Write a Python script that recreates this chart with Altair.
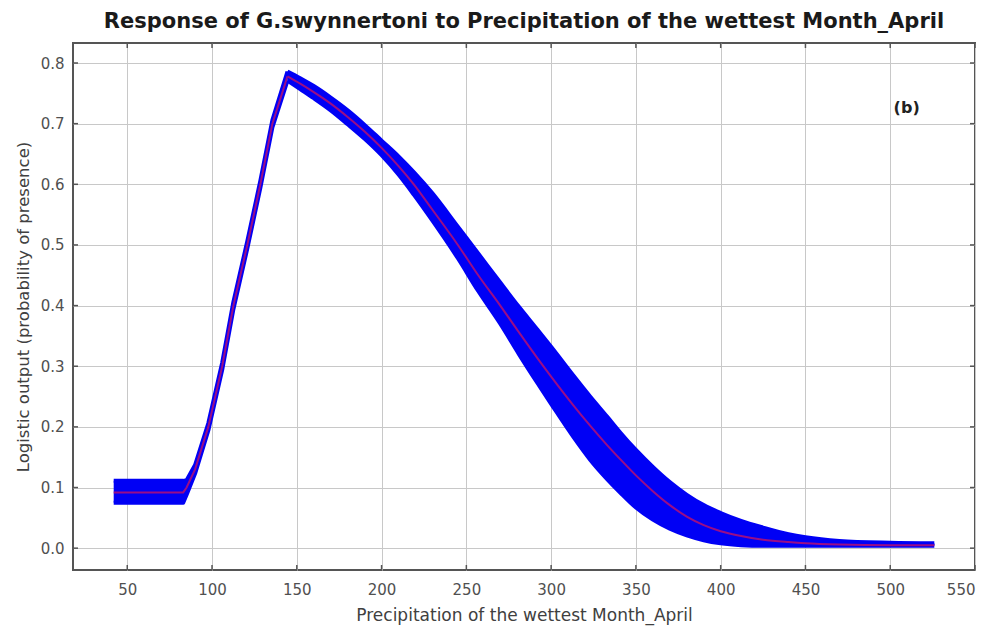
import altair as alt
import pandas as pd

# Precipitation of the wettest month (April), mm
precip = [42, 83, 85, 90, 97.8, 106, 112.6, 120.8, 128.5, 135.6, 144.5,
          152, 160, 170, 180, 190, 200, 210, 219, 230, 245, 257, 270, 281,
          292, 300, 313, 323, 333, 341, 350, 360, 370, 380, 390, 400, 412,
          425, 440, 450, 470, 500, 526]
# mean logistic output (red line)
mean = [0.092, 0.092, 0.100, 0.130, 0.200, 0.300, 0.400, 0.500, 0.600, 0.700, 0.778,
        0.766, 0.752, 0.733, 0.711, 0.687, 0.660, 0.630, 0.600, 0.558, 0.500, 0.450,
        0.400, 0.356, 0.313, 0.283, 0.236, 0.202, 0.170, 0.146, 0.120, 0.094, 0.071,
        0.052, 0.038, 0.028, 0.020, 0.014, 0.010, 0.008, 0.006, 0.005, 0.005]
# upper edge of the blue band (mean + sd)
upper = [0.111, 0.111, 0.112, 0.137, 0.206, 0.306, 0.406, 0.506, 0.606, 0.706, 0.786,
         0.775, 0.762, 0.743, 0.722, 0.698, 0.672, 0.646, 0.620, 0.585, 0.530, 0.486,
         0.438, 0.398, 0.360, 0.332, 0.285, 0.250, 0.217, 0.190, 0.162, 0.134, 0.109,
         0.088, 0.071, 0.058, 0.045, 0.034, 0.023, 0.018, 0.012, 0.009, 0.008]
# lower edge of the blue band (mean - sd)
lower = [0.075, 0.075, 0.088, 0.123, 0.194, 0.294, 0.394, 0.494, 0.594, 0.694, 0.771,
         0.757, 0.742, 0.722, 0.699, 0.675, 0.648, 0.616, 0.583, 0.540, 0.478, 0.424,
         0.370, 0.320, 0.272, 0.238, 0.184, 0.146, 0.114, 0.091, 0.067, 0.047, 0.032,
         0.021, 0.013, 0.008, 0.005, 0.004, 0.004, 0.004, 0.004, 0.004, 0.004]

x_ticks = [50, 100, 150, 200, 250, 300, 350, 400, 450, 500, 550]
y_ticks = [0.0, 0.1, 0.2, 0.3, 0.4, 0.5, 0.6, 0.7, 0.8]

panel_label = ["(b)"]
panel_x = [502]
panel_y = [0.726]

PEAK = 144.5
W, H = 902, 527
TICK = 5

df = pd.DataFrame({"x": precip, "mean": mean, "lo": lower, "hi": upper})
rise = df[df["x"] <= PEAK]
fall = df[df["x"] >= PEAK]
lab = pd.DataFrame({"x": panel_x, "y": panel_y, "t": panel_label})
xt = pd.DataFrame({"x": x_ticks})
yt = pd.DataFrame({"y": y_ticks})

xs = alt.Scale(domain=[18, 550], nice=False, zero=False)
ys = alt.Scale(domain=[-0.036, 0.833], nice=False, zero=False)

FONT = "DejaVu Sans"
xax = alt.Axis(values=x_ticks, title="Precipitation of the wettest Month_April",
               grid=True, ticks=False, domain=False, labelPadding=12,
               titlePadding=10, gridColor="#c8c8c8",
               labelFont=FONT, labelFontSize=15, labelColor="#505050",
               titleFont=FONT, titleFontSize=17, titleColor="#404040",
               titleFontWeight="normal")
yax = alt.Axis(values=y_ticks, format=".1f",
               title="Logistic output (probability of presence)",
               grid=True, ticks=False, domain=False, labelPadding=9,
               titlePadding=9, gridColor="#c8c8c8",
               labelFont=FONT, labelFontSize=15, labelColor="#505050",
               titleFont=FONT, titleFontSize=16.5, titleColor="#404040",
               titleFontWeight="normal")

BLUE = "#0000f5"


def X():
    return alt.X("x:Q", scale=xs, axis=xax)


def Y(field):
    return alt.Y(field, scale=ys, axis=yax)


def layers(d, interp):
    b = alt.Chart(d)
    band = b.mark_area(color=BLUE, opacity=1, interpolate=interp).encode(
        x=X(), y=Y("lo:Q"), y2="hi:Q")
    hi_line = b.mark_line(color=BLUE, strokeWidth=4, strokeJoin="round",
                          interpolate=interp).encode(x=X(), y=Y("hi:Q"))
    lo_line = b.mark_line(color=BLUE, strokeWidth=4, strokeJoin="round",
                          interpolate=interp).encode(x=X(), y=Y("lo:Q"))
    mean_line = b.mark_line(color="#c0106a", strokeWidth=2, opacity=0.8,
                            interpolate=interp).encode(x=X(), y=Y("mean:Q"))
    return [band, hi_line, lo_line, mean_line]


# small inward tick marks on all four sides of the frame
tick_style = dict(color="#555555", strokeWidth=1.5)
bottom_ticks = alt.Chart(xt).mark_rule(**tick_style).encode(
    x=X(), y=alt.value(H), y2=alt.value(H - TICK))
top_ticks = alt.Chart(xt).mark_rule(**tick_style).encode(
    x=X(), y=alt.value(0), y2=alt.value(TICK))
left_ticks = alt.Chart(yt).mark_rule(**tick_style).encode(
    y=Y("y:Q"), x=alt.value(0), x2=alt.value(TICK))
right_ticks = alt.Chart(yt).mark_rule(**tick_style).encode(
    y=Y("y:Q"), x=alt.value(W), x2=alt.value(W - TICK))

text = alt.Chart(lab).mark_text(align="left", baseline="middle", fontWeight="bold",
                                font=FONT, fontSize=16, color="#222").encode(
    x=X(), y=Y("y:Q"), text="t:N")

chart = alt.layer(bottom_ticks, top_ticks, left_ticks, right_ticks,
                  *layers(rise, "linear"), *layers(fall, "monotone"),
                  text).properties(
    width=W, height=H,
    autosize=alt.AutoSizeParams(type="none"),
    padding={"left": 73, "top": 43, "right": 21, "bottom": 61},
    background="white",
    title=alt.Title("Response of G.swynnertoni to Precipitation of the wettest Month_April",
                    font=FONT, fontSize=21, fontWeight="bold", color="#1a1a1a",
                    anchor="middle", offset=10),
).configure_view(
    stroke="#555555", strokeWidth=2
)

chart.save("out.html", embed_options={"renderer": "svg", "actions": False})
